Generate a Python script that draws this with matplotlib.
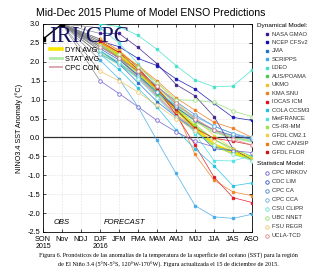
import matplotlib
matplotlib.use('Agg')
import matplotlib.pyplot as plt
from matplotlib.lines import Line2D

plt.rcParams['font.family'] = ['Liberation Sans', 'DejaVu Sans']

seasons = ['SON', 'Nov', 'NDJ', 'DJF', 'JFM', 'FMA', 'MAM', 'AMJ', 'MJJ', 'JJA', 'JAS', 'ASO']
obs_x = [0, 1]
obs_vals = [2.6, 3.0]
fc_x = [3, 4, 5, 6, 7, 8, 9, 10, 11]

dyn_names = ['NASA GMAO', 'NCEP CFSv2', 'JMA', 'SCRIPPS', 'LDEO', 'AUS/POAMA', 'UKMO',
             'KMA SNU', 'IOCAS ICM', 'COLA CCSM3', 'MetFRANCE', 'CS-IRI-MM',
             'GFDL CM2.1', 'CMC CANSIP', 'GFDL FLOR']
dyn_colors = ['#3c1a8c', '#1010b0', '#1f6fd0', '#40a8e8', '#40e0c8', '#50c850', '#f0c030',
              '#f08020', '#e01020', '#20c0e0', '#50e0e0', '#a0e040',
              '#f0d040', '#f07818', '#d01018']
dyn_vals = [
    [2.75, 2.75, 2.38, 1.95, 1.40, 1.10, 0.55, -0.30, -0.60],
    [2.55, 2.40, 2.09, 1.90, 1.55, 1.28, 0.90, 0.53, 0.45],
    [2.30, 1.95, 1.45, 0.95, 0.55, 0.20, -0.30, -0.35, None],
    [2.05, 1.55, 0.81, -0.08, -0.95, -1.80, -2.10, -2.14, -2.03],
    [3.00, 2.93, 2.70, 2.33, 1.90, 1.52, 1.34, 1.36, 1.78],
    [2.45, 2.10, 1.65, 1.15, 0.70, 0.30, -0.05, -0.30, -0.50],
    [2.50, 2.20, 1.80, 1.35, 0.90, None, None, None, None],
    [2.40, 2.15, 1.75, 1.25, 0.70, -0.45, -1.13, -1.44, -1.54],
    [2.60, 2.30, 1.85, 1.30, 0.60, -0.20, -1.05, -1.59, -1.72],
    [2.20, 1.80, 1.30, 0.80, 0.20, -0.30, -0.75, -1.28, -1.20],
    [2.90, 2.50, 1.95, 1.35, 0.85, 0.10, -0.61, -0.62, -0.48],
    [2.45, 2.15, 1.70, 1.25, 0.80, 0.35, -0.05, -0.35, -0.60],
    [2.60, 2.30, 1.90, 1.45, 0.95, 0.50, 0.05, -0.30, -0.55],
    [2.50, 2.25, 1.90, 1.50, 1.05, 0.72, 0.40, 0.24, 0.00],
    [2.55, 2.25, 1.80, 1.30, 0.75, 0.24, -0.02, -0.10, -0.20],
]

stat_names = ['CPC MRKOV', 'CDC LIM', 'CPC CA', 'CPC CCA', 'CSU CLIPR', 'UBC NNET',
              'FSU REGR', 'UCLA-TCD']
stat_colors = ['#6a5acd', '#3050c0', '#4080d0', '#60b0e0', '#60e0d0', '#90e070',
               '#f0c060', '#e08080']
stat_vals = [
    [1.50, 1.16, 0.81, 0.45, 0.15, -0.10, -0.25, -0.35, -0.40],
    [2.35, 2.05, 1.65, 1.20, 0.80, 0.45, 0.20, 0.05, -0.05],
    [2.40, 2.10, 1.75, 1.35, 0.95, 0.60, 0.30, 0.10, -0.05],
    [2.20, 1.95, 1.60, 1.20, 0.85, 0.55, 0.30, 0.10, 0.00],
    [2.30, 2.00, 1.55, 1.05, 0.55, 0.15, -0.20, -0.45, -0.61],
    [2.45, 2.20, 1.85, 1.45, 1.00, 0.98, 0.93, 0.70, 0.55],
    [1.75, 1.50, 1.20, 0.85, 0.50, 0.20, -0.10, None, None],
    [2.40, 2.10, 1.75, 1.35, 0.90, 0.50, 0.20, -0.05, -0.20],
]

dyn_avg = [2.50, 2.20, 1.75, 1.25, 0.75, 0.25, -0.20, -0.40, -0.55]
stat_avg = [2.25, 1.95, 1.60, 1.20, 0.82, 0.45, 0.15, 0.00, -0.10]
cpc_con = [2.50, 2.10, 1.60, 1.10, 0.60, 0.20, None, None, None]


def clean(vals):
    xs = [x for x, v in zip(fc_x, vals) if v is not None]
    ys = [v for v in vals if v is not None]
    return xs, ys


def draw():
    fig = plt.figure(figsize=(3.2, 2.75), dpi=100)
    ax = fig.add_axes([43 / 320, 1 - 232 / 275, 209 / 320, 208 / 275])

    # connectors from the last observation to each first forecast
    for vals in dyn_vals + stat_vals:
        ax.plot([obs_x[-1], fc_x[0]], [obs_vals[-1], vals[0]], color='#808080', lw=0.45, zorder=2)

    ax.plot(fc_x, dyn_avg, color='#f8e800', lw=2.6, zorder=3, label='DYN AVG')
    ax.plot(fc_x, stat_avg, color='#b0e8a8', lw=2.0, zorder=3, label='STAT AVG')
    xs, ys = clean(cpc_con)
    ax.plot(xs, ys, color='#dca8b0', lw=1.4, zorder=3, label='CPC CON')

    for vals, c in zip(dyn_vals, dyn_colors):
        xs, ys = clean(vals)
        ax.plot(xs, ys, color=c, lw=0.55, alpha=0.85, marker='s', ms=2.0, mec=c, zorder=4)
    for vals, c in zip(stat_vals, stat_colors):
        xs, ys = clean(vals)
        ax.plot(xs, ys, color=c, lw=0.55, alpha=0.85, marker='o', ms=2.6, mfc='white', mec=c,
                mew=0.6, zorder=4)

    ax.plot(obs_x, obs_vals, color='black', lw=1.0, marker='s', ms=2.4, zorder=5)
    ax.axhline(0, color='#303030', lw=0.9, zorder=3)

    ax.set_xlim(0, 11)
    ax.set_ylim(-2.5, 3.0)
    ax.set_xticks(range(len(seasons)))
    ax.set_xticklabels(seasons)
    ax.set_yticks([-2.5 + 0.5 * i for i in range(12)])
    ax.set_yticklabels(['%.1f' % (-2.5 + 0.5 * i) for i in range(12)])
    ax.tick_params(direction='in', top=True, right=True, labelsize=5.3, length=2.5, width=0.5, pad=2)
    ax.tick_params(axis='x', pad=3.2)
    ax.grid(True, color='#c8c8c8', lw=0.4, ls=':')
    for s in ax.spines.values():
        s.set_linewidth(0.6)
    ax.set_ylabel('NINO3.4 SST Anomaly (°C)', fontsize=5.2, labelpad=3)

    ax.text(0.3, 2.53, 'IRI/CPC', family='Liberation Serif', fontsize=16.5, color='#141464', zorder=6)
    ax.legend(loc='upper left', bbox_to_anchor=(0.02, 0.905), frameon=False, fontsize=5.3,
              handlelength=1.6, labelspacing=0.25, handletextpad=0.4, borderaxespad=0)
    ax.text(1.0, -2.3, 'OBS', style='italic', fontsize=5.5, ha='center')
    ax.text(4.3, -2.3, 'FORECAST', style='italic', fontsize=5.5, ha='center')
    ax.text(0, -0.072, '2015', transform=ax.get_xaxis_transform(), fontsize=5, ha='center', va='center')
    ax.text(3, -0.072, '2016', transform=ax.get_xaxis_transform(), fontsize=5, ha='center', va='center')

    # model key on the right
    fig.text(257 / 320, 1 - 25 / 275, 'Dynamical Model:', fontsize=4.6, va='center')
    for i, (name, c) in enumerate(zip(dyn_names, dyn_colors)):
        y = 1 - (34 + 8.45 * i) / 275
        fig.add_artist(Line2D([267 / 320], [y], marker='s', ms=2.0, color=c, transform=fig.transFigure))
        fig.text(272 / 320, y, name, fontsize=4.2, va='center', color='#303030')
    fig.text(257 / 320, 1 - 163.5 / 275, 'Statistical Model:', fontsize=4.6, va='center')
    for i, (name, c) in enumerate(zip(stat_names, stat_colors)):
        y = 1 - (172.7 + 9.0 * i) / 275
        fig.add_artist(Line2D([267 / 320], [y], marker='o', ms=2.5, mfc='white', mec=c, mew=0.6,
                              transform=fig.transFigure))
        fig.text(272 / 320, y, name, fontsize=4.2, va='center', color='#303030')

    fig.text(151 / 320, 1 - 12.5 / 275, 'Mid-Dec 2015 Plume of Model ENSO Predictions',
             fontsize=7.6, ha='center', va='center')
    fig.text(168 / 320, 1 - 255.5 / 275,
             'Figura 6. Pronósticos de las anomalías de la temperatura de la superficie del océano (SST) para la región',
             family='Liberation Serif', fontsize=4.4, ha='center', va='center')
    fig.text(168 / 320, 1 - 264.5 / 275,
             'de El Niño 3.4 (5°N-5°S, 120°W-170°W). Figura actualizada el 15 de diciembre de 2015.',
             family='Liberation Serif', fontsize=4.4, ha='center', va='center')

    fig.savefig('out.png', dpi=100)


draw()
